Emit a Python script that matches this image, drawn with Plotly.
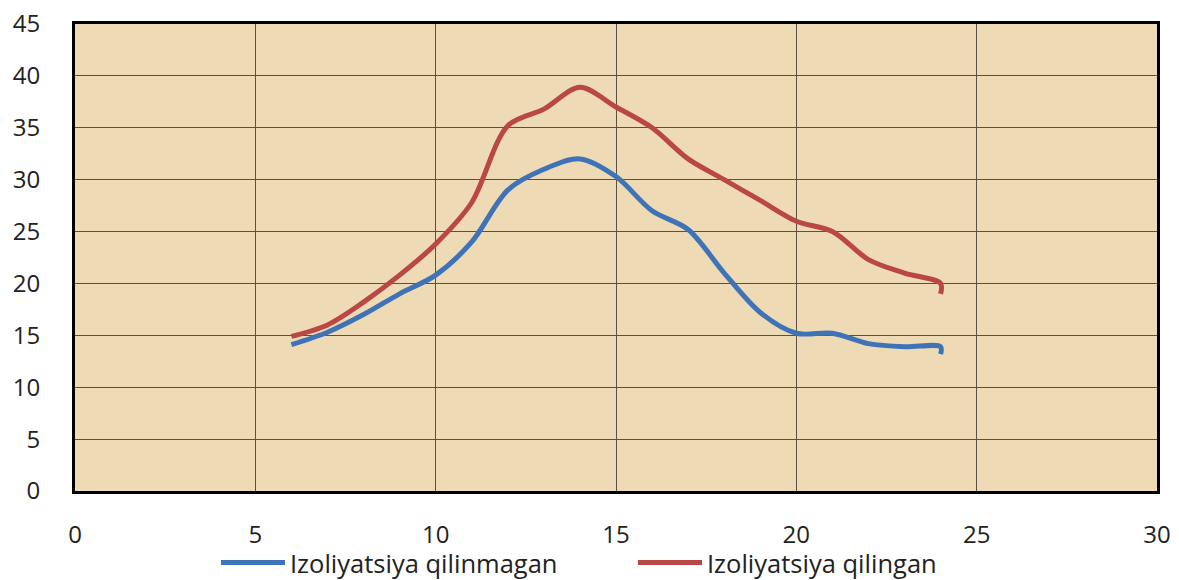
import plotly.graph_objects as go

x_vals = [6, 7, 8, 9, 10, 11, 12, 13, 14, 15, 16, 17, 18, 19, 20, 21, 22, 23, 24, 24]
not_insulated = [14.1, 15.3, 17, 19, 20.8, 24, 29, 31, 32, 30.3, 27, 25.2, 21, 17.2, 15.2, 15.2, 14.2, 13.9, 13.9, 13.2]
insulated = [14.9, 16, 18.2, 20.8, 23.8, 27.8, 35.2, 36.8, 38.9, 37, 35, 32, 30, 28, 26, 25, 22.3, 21, 20, 19]
names = ["Izoliyatsiya qilinmagan", "Izoliyatsiya qilingan"]
colors = ["#3F73B8", "#BA4744"]

W, H = 1171, 572

fig = go.Figure()
for y, n, c in zip([not_insulated, insulated], names, colors):
    fig.add_trace(go.Scatter(x=x_vals, y=y, name=n, mode="lines",
                             line=dict(color=c, width=5, shape="spline", smoothing=0.9)))

fig.update_layout(
    width=W, height=H,
    margin=dict(l=67, r=22, t=16, b=89, autoexpand=False),
    paper_bgcolor="white",
    plot_bgcolor="#EEDBB6",
    font=dict(family="Open Sans, Liberation Sans, sans-serif", size=24, color="#222"),
    showlegend=True,
    legend=dict(orientation="h", xref="container", x=208 / W, xanchor="left",
                yref="container", y=1 - 555 / H, yanchor="middle",
                font=dict(size=25.5), itemwidth=64, entrywidthmode="pixels", entrywidth=338,
                bgcolor="rgba(0,0,0,0)", tracegroupgap=0),
)
fig.update_xaxes(range=[0, 30], dtick=5, tick0=0, showgrid=True, gridcolor="#5A5046", gridwidth=1,
                 showline=True, linecolor="black", linewidth=3, mirror=True, automargin=False,
                 zeroline=False, ticks="", ticklabelstandoff=20, ticklabeloverflow="allow")
fig.update_yaxes(range=[0, 45], dtick=5, tick0=0, showgrid=True, gridcolor="#5A5046", gridwidth=1,
                 showline=True, linecolor="black", linewidth=3, mirror=True, automargin=False,
                 zeroline=False, ticks="", ticklabelstandoff=27, ticklabeloverflow="allow")

fig.write_html("out.html")
